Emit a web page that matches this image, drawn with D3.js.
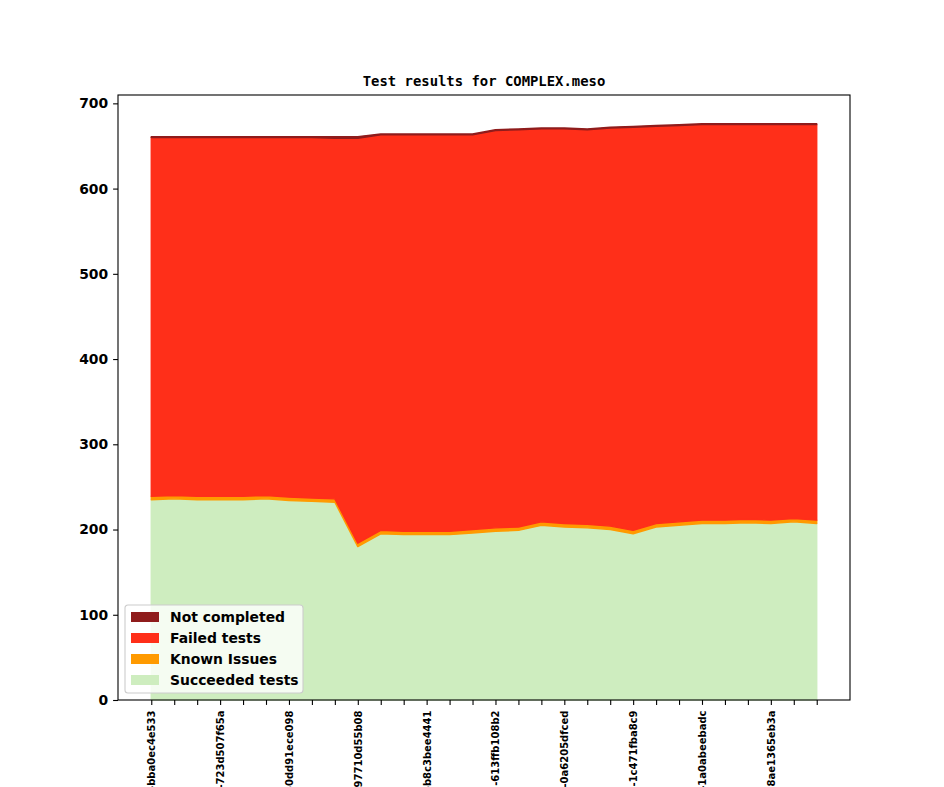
<!DOCTYPE html>
<html>
<head>
<meta charset="utf-8">
<script src="https://cdn.jsdelivr.net/npm/d3@7"></script>
<style>
    html, body { margin: 0; padding: 0; background: #fff; overflow: hidden; }
    #chart { width: 944px; height: 787px; }
    svg { display: block; overflow: hidden; }
</style>
</head>
<body>
<div id="chart"></div>
<script>
// x positions are commits; only every third one carries a label
const xLabels = [
    "-bba0ec4e533", "", "", "-723d507f65a", "", "", "-0dd91ece098", "", "",
    "-97710d55b08", "", "", "-b8c3bee4441", "", "", "-613ffb108b2", "", "",
    "-0a6205dfced", "", "", "-1c471fba8c9", "", "", "-1a0abeebadc", "", "",
    "-8ae1365eb3a", "", ""
];

// series values, bottom to top
const succeeded = [235, 236, 235, 235, 235, 236, 234, 233, 232, 180, 195, 194, 194, 194, 196,
    198, 199, 205, 203, 202, 200, 195, 203, 205, 207, 207, 208, 207, 209, 207];
const knownIssues = [4, 4, 4, 4, 4, 4, 4, 4, 4, 4, 4, 4, 4, 4, 4,
    4, 4, 4, 4, 4, 4, 4, 4, 4, 4, 4, 4, 4, 4, 4];
const failed = [421, 420, 421, 421, 421, 420, 422, 423, 423, 475, 464, 465, 465, 465, 463,
    466, 466, 461, 463, 463, 467, 473, 466, 465, 464, 464, 463, 464, 462, 464];
const notCompleted = [1, 1, 1, 1, 1, 1, 1, 1, 2, 2, 1, 1, 1, 1, 1,
    1, 1, 1, 1, 1, 1, 1, 1, 1, 1, 1, 1, 1, 1, 1];

const seriesNames = ["Succeeded tests", "Known Issues", "Failed tests", "Not completed"];
const yTicks = [0, 100, 200, 300, 400, 500, 600, 700];

const title = "Test results for COMPLEX.meso";

function renderStackChart(container) {
    const width = 944, height = 787;
    const margins = { top: 95, right: 94, bottom: 87, left: 118 };

    container.innerHTML = "";

    const svg = d3.create("svg")
        .attr("width", width)
        .attr("height", height)
        .attr("viewBox", `0 0 ${width} ${height}`);

    const colors = {
        "Succeeded tests": "#ceedbf",
        "Known Issues": "#ff9a00",
        "Failed tests": "#ff2f19",
        "Not completed": "#8f1c1c"
    };

    // build rows for d3.stack
    const rows = succeeded.map((_, i) => ({
        "Succeeded tests": succeeded[i],
        "Known Issues": knownIssues[i],
        "Failed tests": failed[i],
        "Not completed": notCompleted[i]
    }));

    const stacked = d3.stack().keys(seriesNames)(rows);
    const maxTotal = d3.max(stacked[stacked.length - 1], d => d[1]);

    // matplotlib-like 5% margins on x, sticky zero on y
    const n = rows.length;
    const padX = (n - 1) * 0.05;
    const x = d3.scaleLinear()
        .domain([-padX, n - 1 + padX])
        .range([margins.left, width - margins.right]);

    const y = d3.scaleLinear()
        .domain([0, maxTotal * 1.05])
        .range([height - margins.bottom, margins.top]);

    const area = d3.area()
        .x((d, i) => x(i))
        .y0(d => y(d[0]))
        .y1(d => y(d[1]));

    svg.append("g")
        .selectAll("path")
        .data(stacked)
        .join("path")
        .attr("d", area)
        .attr("fill", d => colors[d.key])
        .attr("stroke", d => colors[d.key])
        .attr("stroke-width", 1.4)
        .attr("stroke-linejoin", "round");

    // axes frame
    svg.append("rect")
        .attr("x", margins.left)
        .attr("y", margins.top)
        .attr("width", width - margins.left - margins.right)
        .attr("height", height - margins.top - margins.bottom)
        .attr("fill", "none")
        .attr("stroke", "#000")
        .attr("stroke-width", 1.1);

    // y axis
    const yAxis = svg.append("g")
        .attr("transform", `translate(${margins.left},0)`)
        .call(d3.axisLeft(y).tickValues(yTicks).tickSize(4.9).tickPadding(4.9).tickFormat(d3.format("d")));
    yAxis.select(".domain").remove();
    yAxis.selectAll(".tick line").attr("stroke-width", 1.1);
    yAxis.selectAll(".tick text")
        .attr("font-family", "DejaVu Sans")
        .attr("font-weight", "bold")
        .attr("font-size", 13.9)
        .attr("fill", "#000");

    // x axis with rotated commit labels (they run off the bottom edge, as in the original)
    const xAxis = svg.append("g")
        .attr("transform", `translate(0,${height - margins.bottom})`)
        .call(d3.axisBottom(x).tickValues(d3.range(n)).tickSize(4.9).tickFormat(i => xLabels[i]));
    xAxis.select(".domain").remove();
    xAxis.selectAll(".tick line").attr("stroke-width", 1.1);
    xAxis.selectAll(".tick text")
        .attr("font-family", "DejaVu Sans")
        .attr("font-weight", "bold")
        .attr("font-size", 10)
        .attr("fill", "#000")
        .attr("text-anchor", "end")
        .attr("dy", null)
        .attr("y", 0)
        .attr("dominant-baseline", "central")
        .attr("transform", "translate(0,10.5) rotate(-90)");

    // title
    svg.append("text")
        .attr("x", (margins.left + width - margins.right) / 2)
        .attr("y", margins.top - 9)
        .attr("text-anchor", "middle")
        .attr("font-family", "DejaVu Sans Mono")
        .attr("font-weight", "bold")
        .attr("font-size", 13.9)
        .text(title);

    // legend, lower left, reversed order like the stack
    const legendItems = seriesNames.slice().reverse();
    const legend = svg.append("g")
        .attr("transform", `translate(${margins.left + 7},${height - margins.bottom - 7 - 88})`);

    legend.append("rect")
        .attr("width", 178)
        .attr("height", 88)
        .attr("rx", 3)
        .attr("fill", "#fff")
        .attr("fill-opacity", 0.8)
        .attr("stroke", "#cccccc")
        .attr("stroke-width", 1.1);

    const item = legend.selectAll("g.item")
        .data(legendItems)
        .join("g")
        .attr("class", "item")
        .attr("transform", (d, i) => `translate(6,${12 + i * 21})`);

    item.append("rect")
        .attr("x", 0)
        .attr("y", -5)
        .attr("width", 28)
        .attr("height", 10)
        .attr("fill", d => colors[d]);

    item.append("text")
        .attr("x", 39)
        .attr("y", 0)
        .attr("dy", "0.36em")
        .attr("font-family", "DejaVu Sans")
        .attr("font-weight", "bold")
        .attr("font-size", 13.9)
        .attr("fill", "#000")
        .text(d => d);

    container.appendChild(svg.node());
}

renderStackChart(document.getElementById("chart"));
</script>
</body>
</html>
